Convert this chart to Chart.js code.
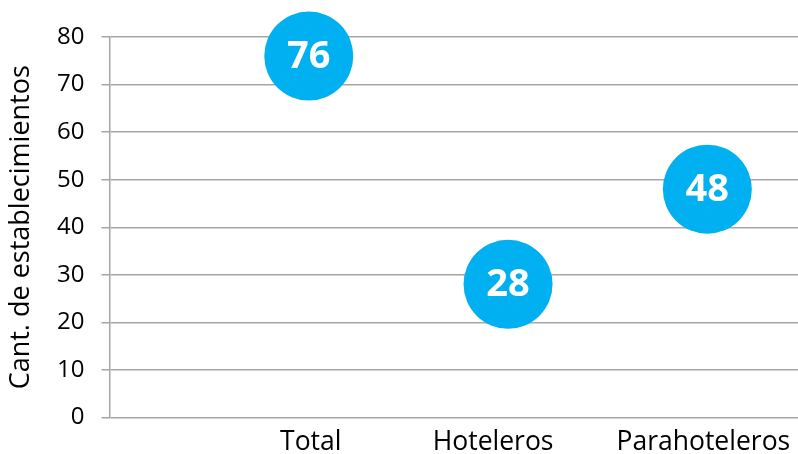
<!DOCTYPE html>
<html>
<head>
<meta charset="utf-8">
<script src="https://cdn.jsdelivr.net/npm/chart.js@4/dist/chart.umd.min.js"></script>
<style>
html,body{margin:0;padding:0;background:#fff;}
#wrap{width:798px;height:454px;}
</style>
</head>
<body>
<div id="wrap"><canvas id="c" width="798" height="454"></canvas></div>
<script>
const categories = ['Total', 'Hoteleros', 'Parahoteleros'];
const values = [76, 28, 48];
const yTicks = [0, 10, 20, 30, 40, 50, 60, 70, 80];
const yTitle = 'Cant. de establecimientos';

const points = categories.map((c, i) => ({ x: i + 1, y: values[i] }));

// Large markers should not shrink the plot area
if (Chart.ScatterController) Chart.ScatterController.prototype.getMaxOverflow = function () { return 0; };
if (Chart.LineController) Chart.LineController.prototype.getMaxOverflow = function () { return 0; };

// small horizontal nudges of the category labels, as in the reference
const labelNudge = [0.01, -0.075, -0.02];

const labelPlugin = {
  id: 'bubbleLabels',
  afterDatasetsDraw(chart) {
    const ctx = chart.ctx;
    const meta = chart.getDatasetMeta(0);
    ctx.save();
    ctx.fillStyle = '#ffffff';
    ctx.font = 'bold 38px "Open Sans"';
    ctx.textAlign = 'center';
    ctx.textBaseline = 'middle';
    meta.data.forEach((el, i) => {
      ctx.fillText(String(values[i]), el.x, el.y + 1);
    });
    ctx.restore();
  }
};

new Chart(document.getElementById('c'), {
  type: 'scatter',
  data: {
    datasets: [{
      data: points,
      backgroundColor: '#00B0F0',
      borderColor: '#00B0F0',
      borderWidth: 0,
      pointRadius: 44.5,
      pointHoverRadius: 44.5,
      clip: false
    }]
  },
  options: {
    responsive: false,
    animation: false,
    events: [],
    layout: { padding: { top: 37, right: 0, left: 0, bottom: 0 } },
    plugins: { legend: { display: false }, tooltip: { enabled: false } },
    scales: {
      x: {
        type: 'linear',
        min: 0,
        max: 3.455,
        afterBuildTicks(scale) {
          scale.ticks = categories.map((c, i) => ({ value: i + 1 + labelNudge[i] }));
        },
        afterFit(scale) {
          scale.height = 36.5;
          scale.paddingLeft = 0;
          scale.paddingRight = 0;
        },
        ticks: {
          callback: (v, i) => categories[i] ?? '',
          color: '#000000',
          font: { family: '"Open Sans"', size: 26.5 },
          padding: 1,
          maxRotation: 0,
          autoSkip: false
        },
        grid: { display: false },
        border: { display: false }
      },
      y: {
        min: 0,
        max: 80,
        afterBuildTicks(scale) {
          scale.ticks = yTicks.map(v => ({ value: v }));
        },
        afterFit(scale) {
          scale.width = 109.5;
          scale.paddingTop = 0;
          scale.paddingBottom = 0;
        },
        ticks: {
          color: '#000000',
          font: { family: '"Open Sans"', size: 24 },
          padding: 17
        },
        grid: { color: '#A6A6A6', lineWidth: 1.5, tickLength: 8 },
        border: { display: true, color: '#A6A6A6', width: 1.5 },
        title: {
          display: true,
          text: yTitle,
          color: '#000000',
          font: { family: '"Open Sans"', size: 27 },
          padding: 5
        }
      }
    }
  },
  plugins: [labelPlugin]
});
</script>
</body>
</html>
